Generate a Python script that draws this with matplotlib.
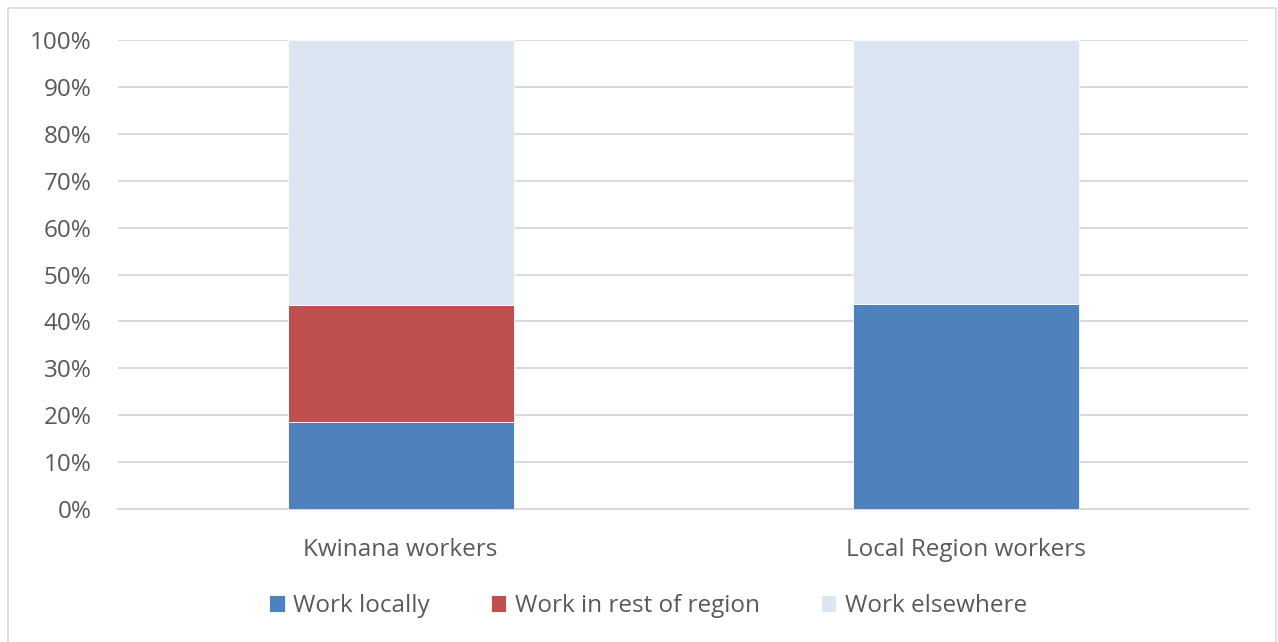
import numpy as np
import matplotlib
matplotlib.use("Agg")
import matplotlib.pyplot as plt
from matplotlib.patches import Rectangle

plt.rcParams['font.family'] = ['Open Sans', 'DejaVu Sans']

categories = ["Kwinana workers", "Local Region workers"]
series_names = ["Work locally", "Work in rest of region", "Work elsewhere"]
work_locally = [18.5, 43.7]
work_rest_region = [25.0, 0.0]
work_elsewhere = [56.5, 56.3]
colors = ["#4F81BD", "#C0504D", "#DCE6F2"]
tick_labels = [f"{v}%" for v in range(0, 101, 10)]

W, H = 1278, 642
fig = plt.figure(figsize=(W / 100, H / 100), dpi=100)
ax = fig.add_axes([118 / W, 1 - 509 / H, (1248 - 118) / W, (509 - 40) / H])

x = np.arange(len(categories))
bottom = np.zeros(len(categories))
for name, vals, c in zip(series_names, [work_locally, work_rest_region, work_elsewhere], colors):
    ax.bar(x, vals, width=0.4, bottom=bottom, color=c, label=name,
           edgecolor="white", linewidth=0.6, zorder=3)
    bottom += np.array(vals)

ax.set_xlim(-0.5, 1.5)
ax.set_ylim(0, 100)
ax.set_yticks(range(0, 101, 10))
ax.set_yticklabels(tick_labels)
ax.set_xticks(x)
ax.set_xticklabels(categories)
ax.tick_params(axis="y", length=0, pad=19, labelsize=17.5, labelcolor="#595959")
ax.tick_params(axis="x", length=0, pad=21, labelsize=17.5, labelcolor="#595959")
ax.yaxis.grid(True, color="#D9D9D9", linewidth=1.4, zorder=0)
for s in ["top", "right", "left"]:
    ax.spines[s].set_visible(False)
ax.spines["bottom"].set_color("#D9D9D9")
ax.spines["bottom"].set_linewidth(1.4)

leg = fig.legend(loc="center", bbox_to_anchor=(648 / W, 1 - 606 / H), ncol=3,
                 frameon=False, fontsize=17.5, handlelength=0.65, handleheight=0.65,
                 handletextpad=0.35, columnspacing=2.5)
for t in leg.get_texts():
    t.set_color("#595959")

fig.patches.append(Rectangle((8 / W, -0.01), (1276 - 8) / W, 1 - 8 / H + 0.01,
                             transform=fig.transFigure, fill=False,
                             edgecolor="#D9D9D9", linewidth=1.2))

fig.savefig("out.png", dpi=100)
